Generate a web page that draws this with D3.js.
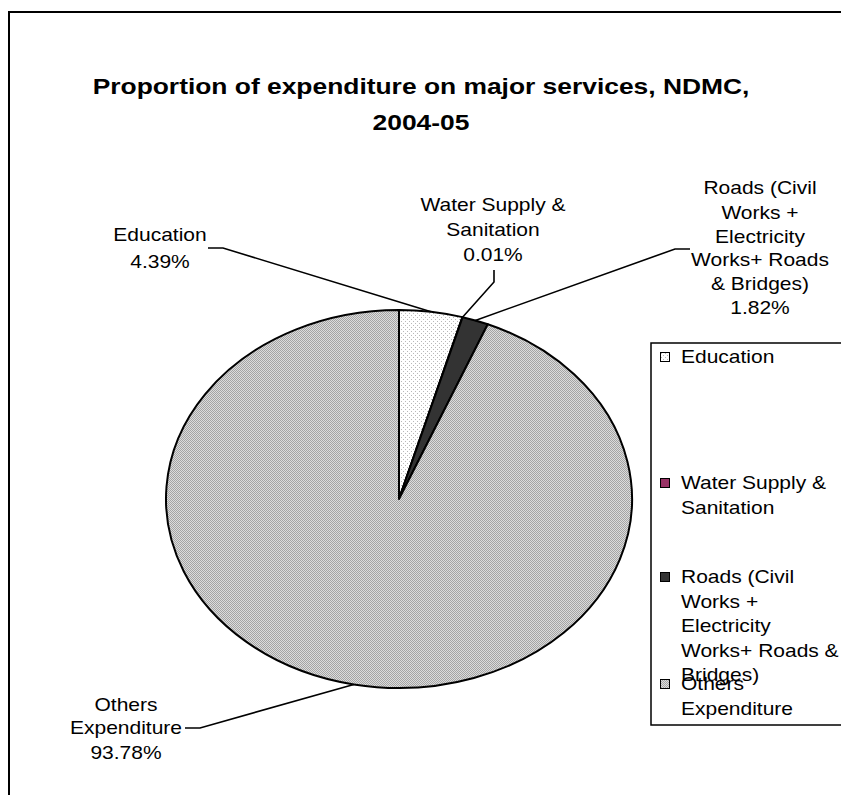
<!DOCTYPE html>
<html>
<head>
<meta charset="utf-8">
<script src="https://cdn.jsdelivr.net/npm/d3@7/dist/d3.min.js"></script>
<style>
  html, body { margin: 0; padding: 0; background: #fff; }
  svg { display: block; }
  text { font-family: "Liberation Sans", Arial, sans-serif; fill: #000; }
</style>
</head>
<body>
<svg id="chart" width="841" height="795"></svg>
<script>
// Expenditure shares (%) on major services, NDMC 2004-05
const categories = [
  "Education",
  "Water Supply & Sanitation",
  "Roads (Civil Works + Electricity Works+ Roads & Bridges)",
  "Others Expenditure"
];
const shares = [4.39, 0.01, 1.82, 93.78];
const shareLabels = ["4.39%", "0.01%", "1.82%", "93.78%"];

// Wrapped text of the callouts and of the legend entries
const calloutLines = [
  ["Education", "4.39%"],
  ["Water Supply &", "Sanitation", "0.01%"],
  ["Roads (Civil", "Works +", "Electricity", "Works+ Roads", "& Bridges)", "1.82%"],
  ["Others", "Expenditure", "93.78%"]
];
const legendLines = [
  ["Education"],
  ["Water Supply &", "Sanitation"],
  ["Roads (Civil", "Works +", "Electricity", "Works+ Roads &", "Bridges)"],
  ["Others", "Expenditure"]
];
const titleLines = ["Proportion of expenditure on major services, NDMC,", "2004-05"];

const svg = d3.select("#chart");
const SX = 1.2;          // horizontal stretch applied to the text
const FS = 17.5;         // label font size

// ---- fills ----
const defs = svg.append("defs");
const KX = 233 / 189;    // the pie is drawn as an ellipse
const dots = defs.append("pattern")
  .attr("id", "dots").attr("patternUnits", "userSpaceOnUse")
  .attr("width", 4).attr("height", 4)
  .attr("patternTransform", `scale(${1 / KX},1)`);
dots.append("rect").attr("width", 4).attr("height", 4).attr("fill", "#fff");
dots.append("rect").attr("x", 0).attr("y", 0).attr("width", 1).attr("height", 1).attr("fill", "#b8b8b8");
dots.append("rect").attr("x", 2).attr("y", 2).attr("width", 1).attr("height", 1).attr("fill", "#b8b8b8");

const checker = defs.append("pattern")
  .attr("id", "checker").attr("patternUnits", "userSpaceOnUse")
  .attr("width", 2).attr("height", 2)
  .attr("patternTransform", `scale(${1 / KX},1)`);
checker.append("rect").attr("width", 2).attr("height", 2).attr("fill", "#dcdcdc");
checker.append("rect").attr("x", 0).attr("y", 0).attr("width", 1).attr("height", 1).attr("fill", "#a4a4a4");
checker.append("rect").attr("x", 1).attr("y", 1).attr("width", 1).attr("height", 1).attr("fill", "#a4a4a4");

// legend swatches use unscaled patterns
const dotsL = defs.append("pattern")
  .attr("id", "dotsL").attr("patternUnits", "userSpaceOnUse").attr("width", 4).attr("height", 4);
dotsL.append("rect").attr("width", 4).attr("height", 4).attr("fill", "#fff");
dotsL.append("rect").attr("x", 1).attr("y", 1).attr("width", 1).attr("height", 1).attr("fill", "#b8b8b8");
dotsL.append("rect").attr("x", 3).attr("y", 3).attr("width", 1).attr("height", 1).attr("fill", "#b8b8b8");
const checkerL = defs.append("pattern")
  .attr("id", "checkerL").attr("patternUnits", "userSpaceOnUse").attr("width", 2).attr("height", 2);
checkerL.append("rect").attr("width", 2).attr("height", 2).attr("fill", "#dcdcdc");
checkerL.append("rect").attr("width", 1).attr("height", 1).attr("fill", "#a4a4a4");
checkerL.append("rect").attr("x", 1).attr("y", 1).attr("width", 1).attr("height", 1).attr("fill", "#a4a4a4");

const sliceFill = ["url(#dots)", "#993366", "#333333", "url(#checker)"];
const swatchFill = ["url(#dotsL)", "#993366", "#333333", "url(#checkerL)"];

// ---- chart frame ----
svg.append("rect")
  .attr("x", 9).attr("y", 12).attr("width", 900).attr("height", 900)
  .attr("fill", "none").attr("stroke", "#000").attr("stroke-width", 2);

// multi-line text block, each entry is the vertical centre of a line
function textBlock(x, yCenters, lines, opts = {}) {
  const fs = opts.size || FS;
  const g = svg.append("g");
  lines.forEach((t, i) => {
    g.append("text")
      .attr("transform", `translate(${x},${yCenters[i] + fs * 0.36}) scale(${SX},1)`)
      .attr("text-anchor", opts.anchor || "middle")
      .attr("font-size", fs)
      .attr("font-weight", opts.weight || "normal")
      .text(t);
  });
  return g;
}

// ---- title ----
textBlock(421, [86, 122], titleLines, { size: 22, weight: "bold" });

// ---- pie ----
const cx = 399, cy = 499, R = 189;
const pie = d3.pie().sort(null).value(d => d)(shares);
const arc = d3.arc().innerRadius(0).outerRadius(R);
const rim = d3.arc().innerRadius(R).outerRadius(R);

const pieG = svg.append("g").attr("transform", `translate(${cx},${cy}) scale(${KX},1)`);
pieG.selectAll("path.slice")
  .data(pie)
  .join("path")
  .attr("class", "slice")
  .attr("d", arc)
  .attr("fill", (d, i) => sliceFill[i])
  .attr("stroke", "#000")
  .attr("stroke-width", 2)
  .attr("stroke-linejoin", "round")
  .attr("vector-effect", "non-scaling-stroke");

// rim point of a slice in page coordinates
function rimPoint(d) {
  const [x, y] = rim.centroid(d);
  return [cx + x * KX, cy + y];
}

// ---- callouts ----
const line = d3.line();
function leader(points) {
  svg.append("path")
    .attr("d", line(points))
    .attr("fill", "none")
    .attr("stroke", "#000")
    .attr("stroke-width", 1.6);
}

// Education
textBlock(160, [235, 262], calloutLines[0]);
leader([[208, 248], [223, 248], rimPoint(pie[0])]);

// Water Supply & Sanitation
textBlock(493, [205, 230, 255], calloutLines[1]);
leader([[494, 270], [494, 282], rimPoint(pie[1])]);

// Roads
textBlock(760, [188, 213, 237, 260, 284, 308], calloutLines[2]);
leader([[690, 249], [675, 249], rimPoint(pie[2])]);

// Others Expenditure
textBlock(126, [705, 728, 753], calloutLines[3]);
leader([[185, 728], [200, 728], rimPoint(pie[3])]);

// ---- legend ----
svg.append("rect")
  .attr("x", 651).attr("y", 343).attr("width", 260).attr("height", 382)
  .attr("fill", "#fff").attr("stroke", "#000").attr("stroke-width", 1.5);

const legendTop = [357, 483, 577, 684];
const legendStep = 24.5;
legendLines.forEach((lines, i) => {
  svg.append("rect")
    .attr("x", 660.5).attr("y", legendTop[i] - 4.5)
    .attr("width", 9).attr("height", 9)
    .attr("fill", swatchFill[i])
    .attr("stroke", "#000").attr("stroke-width", 1);
  textBlock(681, lines.map((_, k) => legendTop[i] + k * legendStep), lines, { anchor: "start" });
});
</script>
</body>
</html>
